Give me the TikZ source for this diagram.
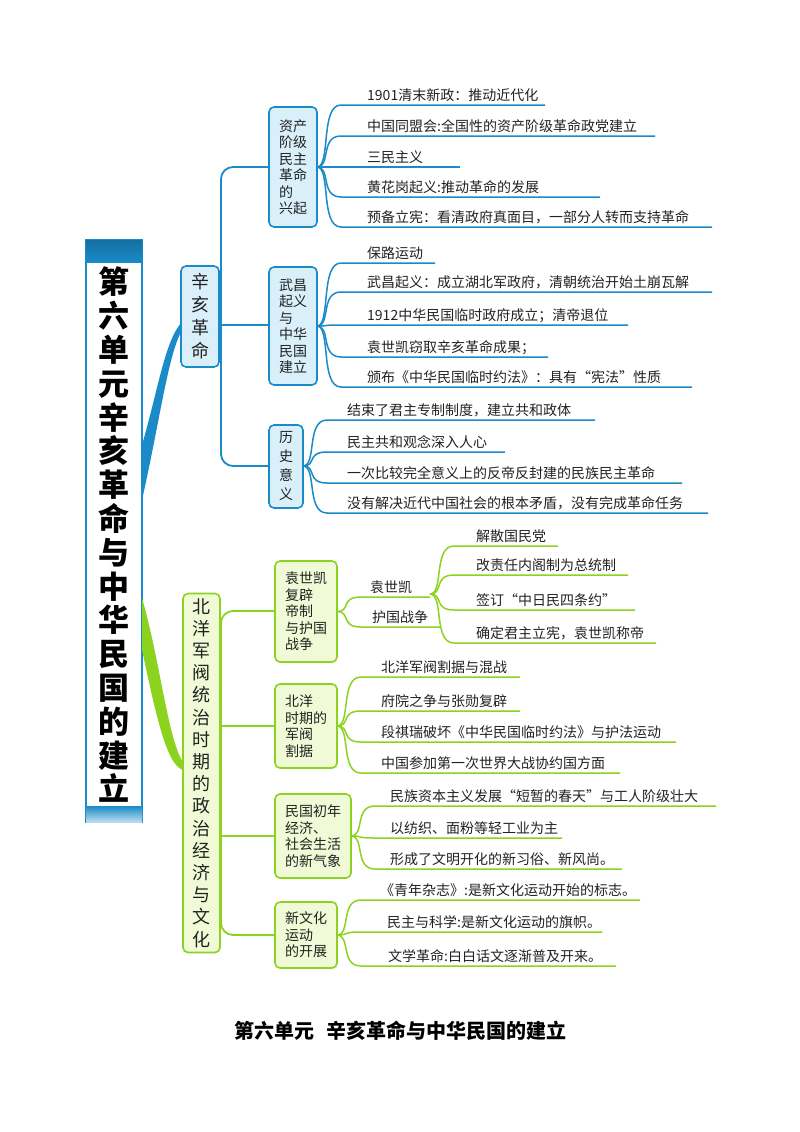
\documentclass[tikz,border=0pt]{standalone}
\usepackage{fontspec}
\setmainfont{Noto Sans CJK SC}
\begin{document}
\begin{tikzpicture}[x=1pt,y=-1pt,
  bl/.style={draw=blueL,line width=1.6pt,rounded corners=5pt,fill=blueF},
  gr/.style={draw=greenL,line width=1.6pt,rounded corners=5pt,fill=greenF},
  lt/.style={anchor=base west,font=\fontsize{14}{14}\selectfont,text=txt,inner sep=0pt},
  bt/.style={font=\fontsize{14}{16.5}\selectfont,text=txt,align=left,inner sep=0pt}]
\definecolor{blueL}{HTML}{1A8BC8}
\definecolor{blueF}{HTML}{D9EFFA}
\definecolor{greenL}{HTML}{8CD320}
\definecolor{greenF}{HTML}{F1FAD6}
\definecolor{txt}{HTML}{222222}
\useasboundingbox (0,0) rectangle (800,1132);
\fill[white] (0,0) rectangle (800,1132);
% leaf macro: color, forkx, forky, liney, textx, endx, text
\newcommand\lf[7]{%
  \draw[#1,line width=1.5pt] (#2,#3) .. controls (#2+14,#3) and (#2+3,#4) .. (#2+24,#4) -- (#6,#4);
  \node[lt] at (#5,#4-5) {#7};}
% root
\node[draw=blueL,line width=2pt,fill=white,minimum width=56pt,minimum height=582pt,inner sep=0pt] (root) at (114,531) {};
\shade[top color=blueL!80!black,bottom color=blueL] (86,240) rectangle (142,262);
\shade[top color=blueL,bottom color=blueL!30] (86,806) rectangle (142,822);
\node[align=center,font=\fontsize{31}{33.8}\selectfont\bfseries,text=black] (title) at (114,535) {第\\六\\单\\元\\辛\\亥\\革\\命\\与\\中\\华\\民\\国\\的\\建\\立};
% wedges
\fill[blueL] (142,445) .. controls (158,390) and (165,340) .. (182,322) -- (182,330) .. controls (168,355) and (160,420) .. (142,500) -- cycle;
\fill[greenL] (142,598) .. controls (160,660) and (168,740) .. (183,762) -- (183,770) .. controls (166,765) and (155,710) .. (142,650) -- cycle;
% level1
\node[bl,minimum width=38pt,minimum height=101pt,inner sep=0pt] (xh) at (200,316.5) {};
\node[bt,font=\fontsize{18}{23}\selectfont] at (200,316.5) {辛\\亥\\革\\命};
\node[gr,minimum width=37pt,minimum height=359pt,inner sep=0pt] (by) at (201.5,773) {};
\node[bt,font=\fontsize{18}{22.2}\selectfont] at (201.5,773) {北\\洋\\军\\阀\\统\\治\\时\\期\\的\\政\\治\\经\\济\\与\\文\\化};
% blue trunk
\draw[blueL,line width=1.8pt,rounded corners=12pt] (269,167) -- (221,167) -- (221,466) -- (269,466);
\draw[blueL,line width=1.8pt] (221,325) -- (269,325);
% level2 blue
\node[bl,minimum width=48pt,minimum height=120pt,inner sep=0pt] (zc) at (293,167) {};
\node[bt] at (293,167) {资产\\阶级\\民主\\革命\\的\\兴起};
\node[bl,minimum width=48pt,minimum height=118pt,inner sep=0pt] (wc) at (293,326) {};
\node[bt] at (293,326) {武昌\\起义\\与\\中华\\民国\\建立};
\node[bl,minimum width=34pt,minimum height=83pt,inner sep=0pt] (ls) at (286,466.5) {};
\node[bt,font=\fontsize{14}{19}\selectfont] at (286,466.5) {历\\史\\意\\义};
% leaves blue
\lf{blueL}{317}{167}{105}{367}{545}{1901清末新政：推动近代化}
\lf{blueL}{317}{167}{136}{367}{655}{中国同盟会:全国性的资产阶级革命政党建立}
\lf{blueL}{317}{167}{167}{367}{460}{三民主义}
\lf{blueL}{317}{167}{197}{367}{600}{黄花岗起义:推动革命的发展}
\lf{blueL}{317}{167}{227}{367}{712}{预备立宪：看清政府真面目，一部分人转而支持革命}
\lf{blueL}{317}{326}{263}{367}{435}{保路运动}
\lf{blueL}{317}{326}{292}{367}{712}{武昌起义：成立湖北军政府，清朝统治开始土崩瓦解}
\lf{blueL}{317}{326}{325}{367}{628}{1912中华民国临时政府成立；清帝退位}
\lf{blueL}{317}{326}{357}{367}{548}{袁世凯窃取辛亥革命成果；}
\lf{blueL}{317}{326}{387}{367}{692}{颁布《中华民国临时约法》：具有“宪法”性质}
\lf{blueL}{303}{466}{420}{347}{595}{结束了君主专制制度，建立共和政体}
\lf{blueL}{303}{466}{452}{347}{505}{民主共和观念深入人心}
\lf{blueL}{303}{466}{483}{347}{682}{一次比较完全意义上的反帝反封建的民族民主革命}
\lf{blueL}{303}{466}{513}{347}{708}{没有解决近代中国社会的根本矛盾，没有完成革命任务}
% green trunk
\draw[greenL,line width=1.8pt,rounded corners=12pt] (275,611) -- (221,611) -- (221,935) -- (275,935);
\draw[greenL,line width=1.8pt] (221,726) -- (275,726);
\draw[greenL,line width=1.8pt] (221,836) -- (275,836);
% level2 green
\node[gr,minimum width=62pt,minimum height=101pt,inner sep=0pt] (ys) at (306,611.5) {};
\node[bt] at (306,611.5) {袁世凯\\复辟\\帝制\\与护国\\战争};
\node[gr,minimum width=62pt,minimum height=84pt,inner sep=0pt] (bj) at (306,726) {};
\node[bt] at (306,726) {北洋\\时期的\\军阀\\割据};
\node[gr,minimum width=76pt,minimum height=84pt,inner sep=0pt] (mg) at (313,836) {};
\node[bt] at (313,836) {民国初年\\经济、\\社会生活\\的新气象};
\node[gr,minimum width=62pt,minimum height=66pt,inner sep=0pt] (xw) at (306,935) {};
\node[bt] at (306,935) {新文化\\运动\\的开展};
% green leaves
\lf{greenL}{337}{611.5}{597}{370}{430}{袁世凯}
\lf{greenL}{337}{611.5}{627}{372}{440}{护国战争}
\lf{greenL}{430}{594}{546}{476}{558}{解散国民党}
\lf{greenL}{430}{594}{575}{476}{628}{改责任内阁制为总统制}
\lf{greenL}{430}{594}{610}{476}{635}{签订“中日民四条约”}
\lf{greenL}{430}{594}{643}{476}{656}{确定君主立宪，袁世凯称帝}
\lf{greenL}{337}{726}{677}{381}{520}{北洋军阀割据与混战}
\lf{greenL}{337}{726}{711}{381}{520}{府院之争与张勋复辟}
\lf{greenL}{337}{726}{742}{381}{676}{段祺瑞破坏《中华民国临时约法》与护法运动}
\lf{greenL}{337}{726}{773}{381}{620}{中国参加第一次世界大战协约国方面}
\lf{greenL}{351}{836}{806}{390}{716}{民族资本主义发展“短暂的春天”与工人阶级壮大}
\lf{greenL}{351}{836}{838}{390}{562}{以纺织、面粉等轻工业为主}
\lf{greenL}{351}{836}{869}{390}{622}{形成了文明开化的新习俗、新风尚。}
\lf{greenL}{337}{935}{900}{380}{640}{《青年杂志》:是新文化运动开始的标志。}
\lf{greenL}{337}{935}{932}{387}{602}{民主与科学:是新文化运动的旗帜。}
\lf{greenL}{337}{935}{966}{388}{616}{文学革命:白白话文逐渐普及开来。}
\node[font=\fontsize{20}{20}\selectfont\bfseries,text=black] (foot) at (400,1031) {第六单元\hspace{0.6em}辛亥革命与中华民国的建立};
\end{tikzpicture}
\end{document}
